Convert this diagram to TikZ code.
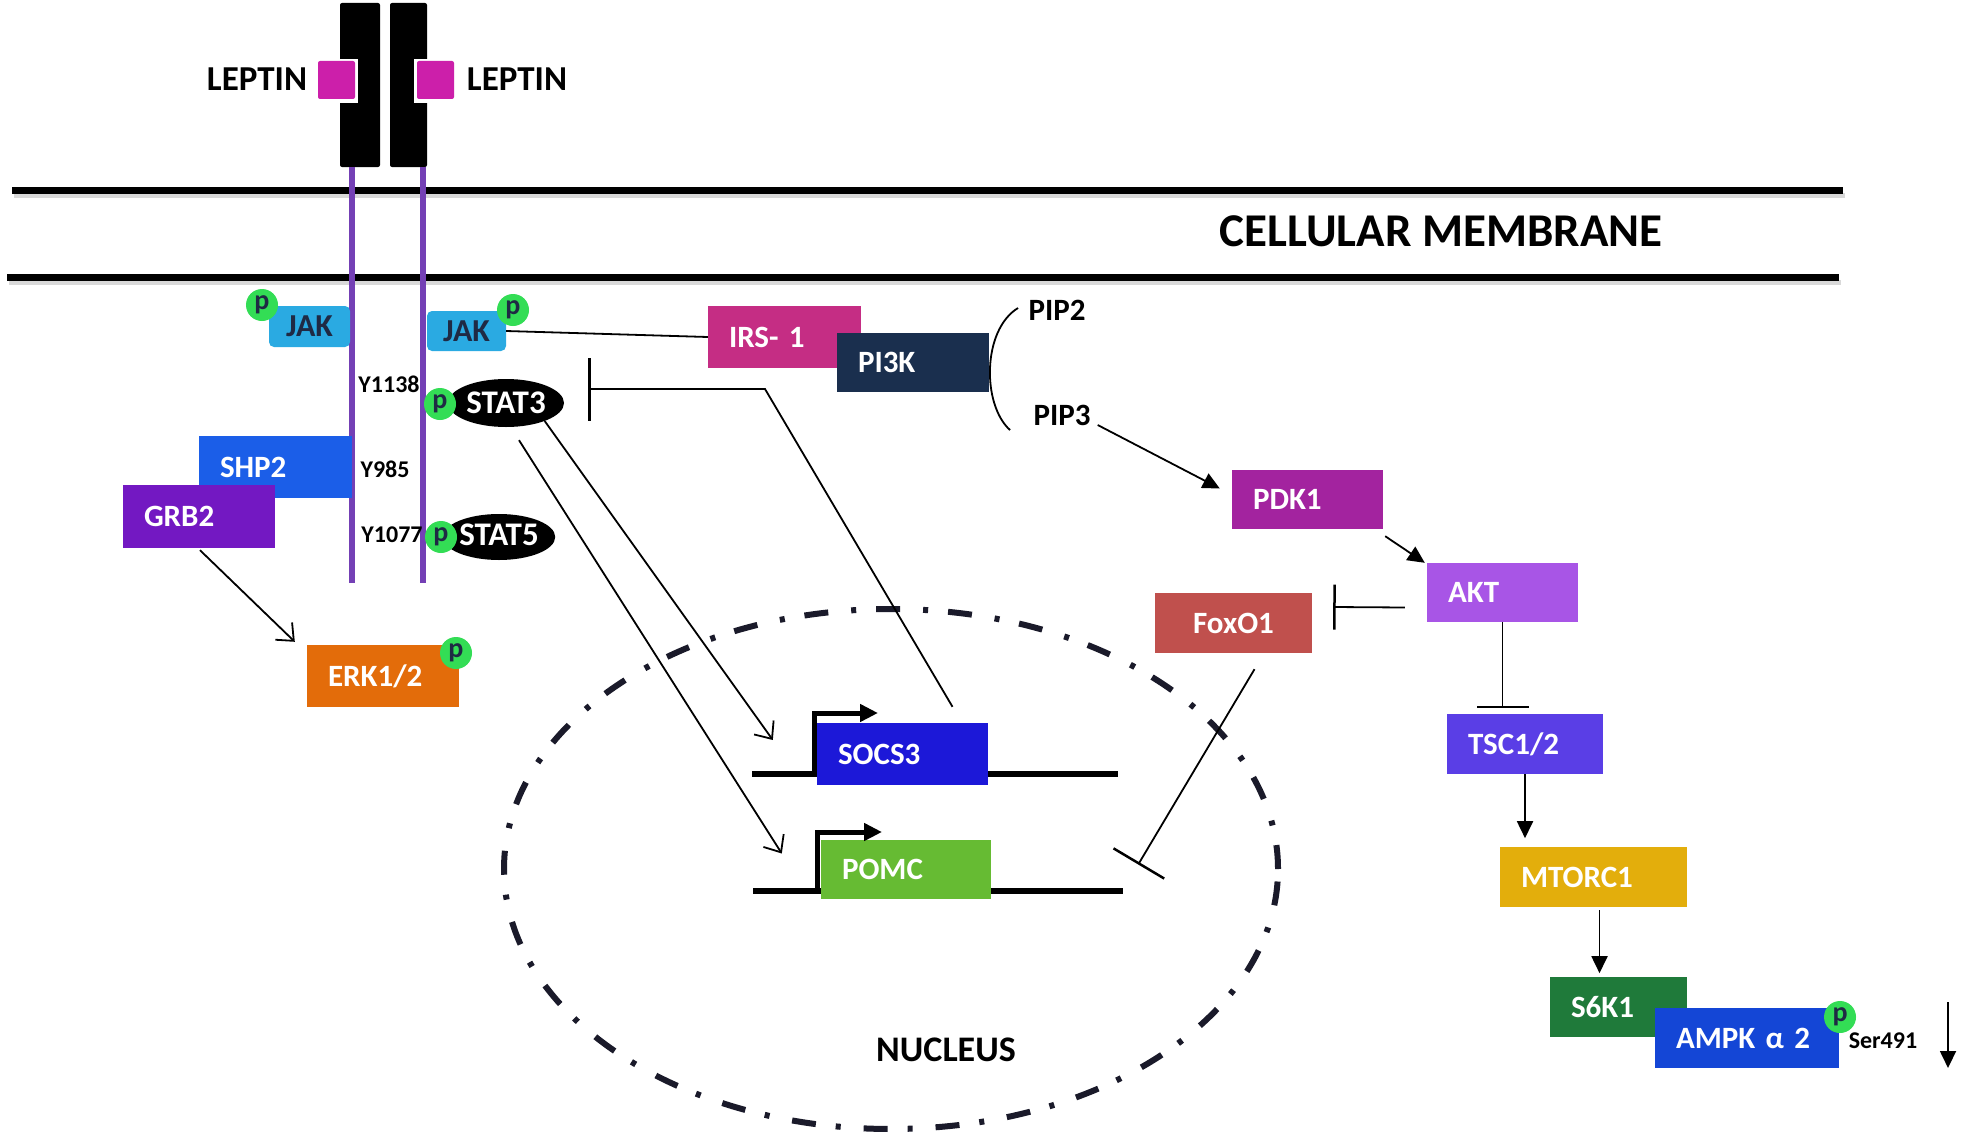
\documentclass[tikz,border=0pt]{standalone}
\usepackage{fontspec}
\setmainfont{Carlito}
\usetikzlibrary{arrows.meta,shapes.geometric,calc}
\definecolor{jakblue}{HTML}{2AAAE2}
\definecolor{leptmag}{HTML}{CC1FAA}
\definecolor{shpblue}{HTML}{1B5EE8}
\definecolor{grbpurp}{HTML}{7318C2}
\definecolor{erkor}{HTML}{E36C0A}
\definecolor{irspink}{HTML}{C52D84}
\definecolor{pinavy}{HTML}{1A2F4E}
\definecolor{pdkpurp}{HTML}{A3239F}
\definecolor{aktpurp}{HTML}{A855E6}
\definecolor{foxred}{HTML}{C0504D}
\definecolor{tscblue}{HTML}{5A3EE6}
\definecolor{mtgold}{HTML}{E3AE0C}
\definecolor{s6green}{HTML}{1F7A3A}
\definecolor{ampkblue}{HTML}{1446D6}
\definecolor{socsblue}{HTML}{1C18D8}
\definecolor{pomcgreen}{HTML}{66BB33}
\definecolor{pgreen}{HTML}{33DD55}
\definecolor{pdark}{HTML}{1F2A44}
\definecolor{rcpurp}{HTML}{7440B5}
\definecolor{ndark}{HTML}{1A1A2A}
\begin{document}
\begin{tikzpicture}[x=1pt,y=-1pt,
  gbox/.style={rectangle, inner xsep=21pt, inner ysep=0pt, align=left, text=white,
    font=\bfseries\fontsize{31}{34}\selectfont, minimum height=60pt},
  pcirc/.style={circle, fill=pgreen, minimum size=32pt, inner sep=0pt, text=pdark,
    font=\bfseries\fontsize{28}{28}\selectfont},
  jakbox/.style={rectangle, rounded corners=5pt, fill=jakblue, minimum width=80pt,
    minimum height=41pt, inner sep=0pt, text=pdark, font=\bfseries\fontsize{32}{32}\selectfont},
  statel/.style={ellipse, fill=black, text=white, inner sep=0pt,
    font=\bfseries\fontsize{33}{33}\selectfont},
  ylab/.style={inner sep=0pt, text=black, font=\bfseries\fontsize{24}{24}\selectfont},
  biglab/.style={inner sep=0pt, text=black, font=\bfseries\fontsize{#1}{#1}\selectfont},
  conn/.style={line width=1.8pt, draw=black},
  oarr/.style={conn, -{Straight Barb[length=14pt,width=24pt,line width=1.8pt]}},
  farr/.style={conn, -{Triangle[length=17pt,width=16pt]}},
  inh/.style={conn, -{Bar[width=#1,line width=2.5pt]}},
  memline/.style={line width=7pt, draw=black},
  geneline/.style={line width=6pt, draw=black},
  promarr/.style={line width=5pt, draw=black, line join=miter, -{Triangle[length=18pt,width=17pt]}}
]
\useasboundingbox (0,0) rectangle (1961,1137);
\fill[white] (0,0) rectangle (1961,1137);

% membrane
\draw[line width=5pt, draw=black!15] (14,195) -- (1845,195);
\draw[line width=5pt, draw=black!15] (9,282) -- (1841,282);
\draw[memline] (12,190) -- (1843,190);
\draw[memline] (7,277) -- (1839,277);
\node[biglab=47] (memb) at (1441,231) {CELLULAR MEMBRANE};

% receptors
\fill[black, rounded corners=2pt] (340,3) rectangle (380,167);
\fill[black, rounded corners=2pt] (390,3) rectangle (427,167);
\fill[white] (337,59) rectangle (358,103);
\fill[white] (414,59) rectangle (430,103);
\fill[leptmag, rounded corners=2pt] (318,61) rectangle (355,99);
\fill[leptmag, rounded corners=2pt] (417,61) rectangle (454,99);
\node[biglab=35] (leptl) at (257,79) {LEPTIN};
\node[biglab=35] (leptr) at (517,79) {LEPTIN};

% purple receptor tails
\draw[line width=5.5pt, draw=rcpurp] (352,167) -- (352,583);
\draw[line width=5.5pt, draw=rcpurp] (423,167) -- (423,583);

% nucleus
\node[ellipse, draw=ndark, line width=6pt, dash pattern=on 24pt off 20pt on 5pt off 23pt,
  minimum width=774pt, minimum height=520pt, inner sep=0pt] (nucleus) at (891,869) {};
\node[biglab=36] (nuctext) at (946,1050) {NUCLEUS};

% gene lines
\draw[geneline] (752,774) -- (1118,774);
\draw[geneline] (753,891) -- (1123,891);

% boxes
\node[gbox, fill=shpblue, text width=111pt, minimum height=62pt] (shp2) at (275.5,467) {SHP2};
\node[gbox, fill=grbpurp, text width=110pt, minimum height=63pt] (grb2) at (199,516.5) {GRB2};
\node[gbox, fill=erkor, text width=110pt, minimum height=62pt] (erk) at (383,676) {ERK1/2};
\node[gbox, fill=irspink, text width=111pt, minimum height=62pt] (irs) at (784.5,337) {IRS- 1};
\node[gbox, fill=pinavy, text width=110pt, minimum height=59pt] (pi3k) at (913,362.5) {PI3K};
\node[gbox, fill=pdkpurp, text width=109pt, minimum height=59pt] (pdk1) at (1307.5,499.5) {PDK1};
\node[gbox, fill=aktpurp, text width=109pt, minimum height=59pt] (akt) at (1502.5,592.5) {AKT};
\node[gbox, fill=foxred, align=center, text width=115pt, minimum height=60pt] (foxo) at (1233.5,623) {FoxO1};
\node[gbox, fill=tscblue, text width=114pt, minimum height=60pt] (tsc) at (1525,744) {TSC1/2};
\node[gbox, fill=mtgold, text width=145pt, minimum height=60pt] (mtorc) at (1593.5,877) {MTORC1};
\node[gbox, fill=s6green, text width=95pt, minimum height=60pt] (s6k1) at (1618.5,1007) {S6K1};
\node[gbox, fill=ampkblue, text width=142pt, minimum height=60pt] (ampk) at (1747,1038) {AMPK α 2};
\node[gbox, fill=socsblue, text width=129pt, minimum height=62pt] (socs3) at (902.5,754) {SOCS3};
\node[gbox, fill=pomcgreen, text width=128pt, minimum height=59pt] (pomc) at (906,869.5) {POMC};

% promoters
\draw[promarr] (814,776) -- (814,713) -- (878,713);
\draw[promarr] (817,893) -- (817,832) -- (882,832);

% JAKs
\node[jakbox, minimum width=81pt] (jakl) at (309.5,326.5) {JAK};
\node[jakbox, minimum width=79pt, minimum height=40pt] (jakr) at (466.5,331) {JAK};
\node[pcirc] (pjakl) at (262,305) {p};
\node[pcirc] (pjakr) at (513,310) {p};

% STATs
\node[statel, minimum width=116pt, minimum height=48pt] (stat3) at (506,403) {STAT3};
\node[statel, minimum width=112pt, minimum height=46pt] (stat5) at (499,537) {\raisebox{4pt}{STAT5}};
\node[pcirc] (pstat3) at (440,404) {p};
\node[pcirc] (pstat5) at (441,537) {p};
\node[pcirc] (perk) at (456,653) {p};
\node[pcirc] (pampk) at (1840,1017) {p};

% residue labels
\node[ylab] (y1138) at (389,384) {Y1138};
\node[ylab] (y985) at (385,469) {Y985};
\node[ylab] (y1077) at (392,535) {Y1077};
\node[ylab] (ser) at (1883,1041) {Ser491};

% PIP labels
\node[biglab=31] (pip2) at (1057,310) {PIP2};
\node[biglab=31] (pip3) at (1062,415) {PIP3};

% connectors
\draw[conn] (jakr.east) -- (irs.west);
\draw[oarr] ($(grb2.south)+(1,2)$) -- ($(erk.north west)+(-12,-3)$);
\draw[oarr] (stat3.-25) -- ($(socs3.west)+(-44,-14)$);
\draw[oarr] ($(stat3.south)+(13,13)$) -- ($(pomc.west)+(-39,-16)$);
\coordinate (sbend) at (765,389);
\draw[inh=63pt] ($(socs3.north)+(50,-16)$) -- (sbend) -- ($(stat3.east)+(24,-14)$);
\coordinate (pip2c) at (1018,308);
\coordinate (pip3c) at (1010,430);
\draw[conn] (pip2c) .. controls (982,330) and (982,405) .. (pip3c);
\draw[farr] ($(pip3.east)+(7,10)$) -- ($(pdk1.west)+(-12,-11)$);
\draw[farr] ($(pdk1.south east)+(2,7)$) -- ($(akt.north west)+(-2,0)$);
\draw[inh=45pt] ($(akt.west)+(-22,15)$) -- ($(foxo.east)+(21,-16)$);
\draw[inh=52pt] (akt.south) -- ++(0,86);
\draw[farr] (tsc.south) -- ++(0,64);
\draw[farr] ($(mtorc.south)+(6,3)$) -- ++(0,63);
\draw[inh=59pt] ($(foxo.south)+(21,16)$) -- ($(pomc.east)+(147,-5)$);
\coordinate (sertop) at (1948,1002);
\draw[farr] (sertop) -- ++(0,66);
\end{tikzpicture}
\end{document}
